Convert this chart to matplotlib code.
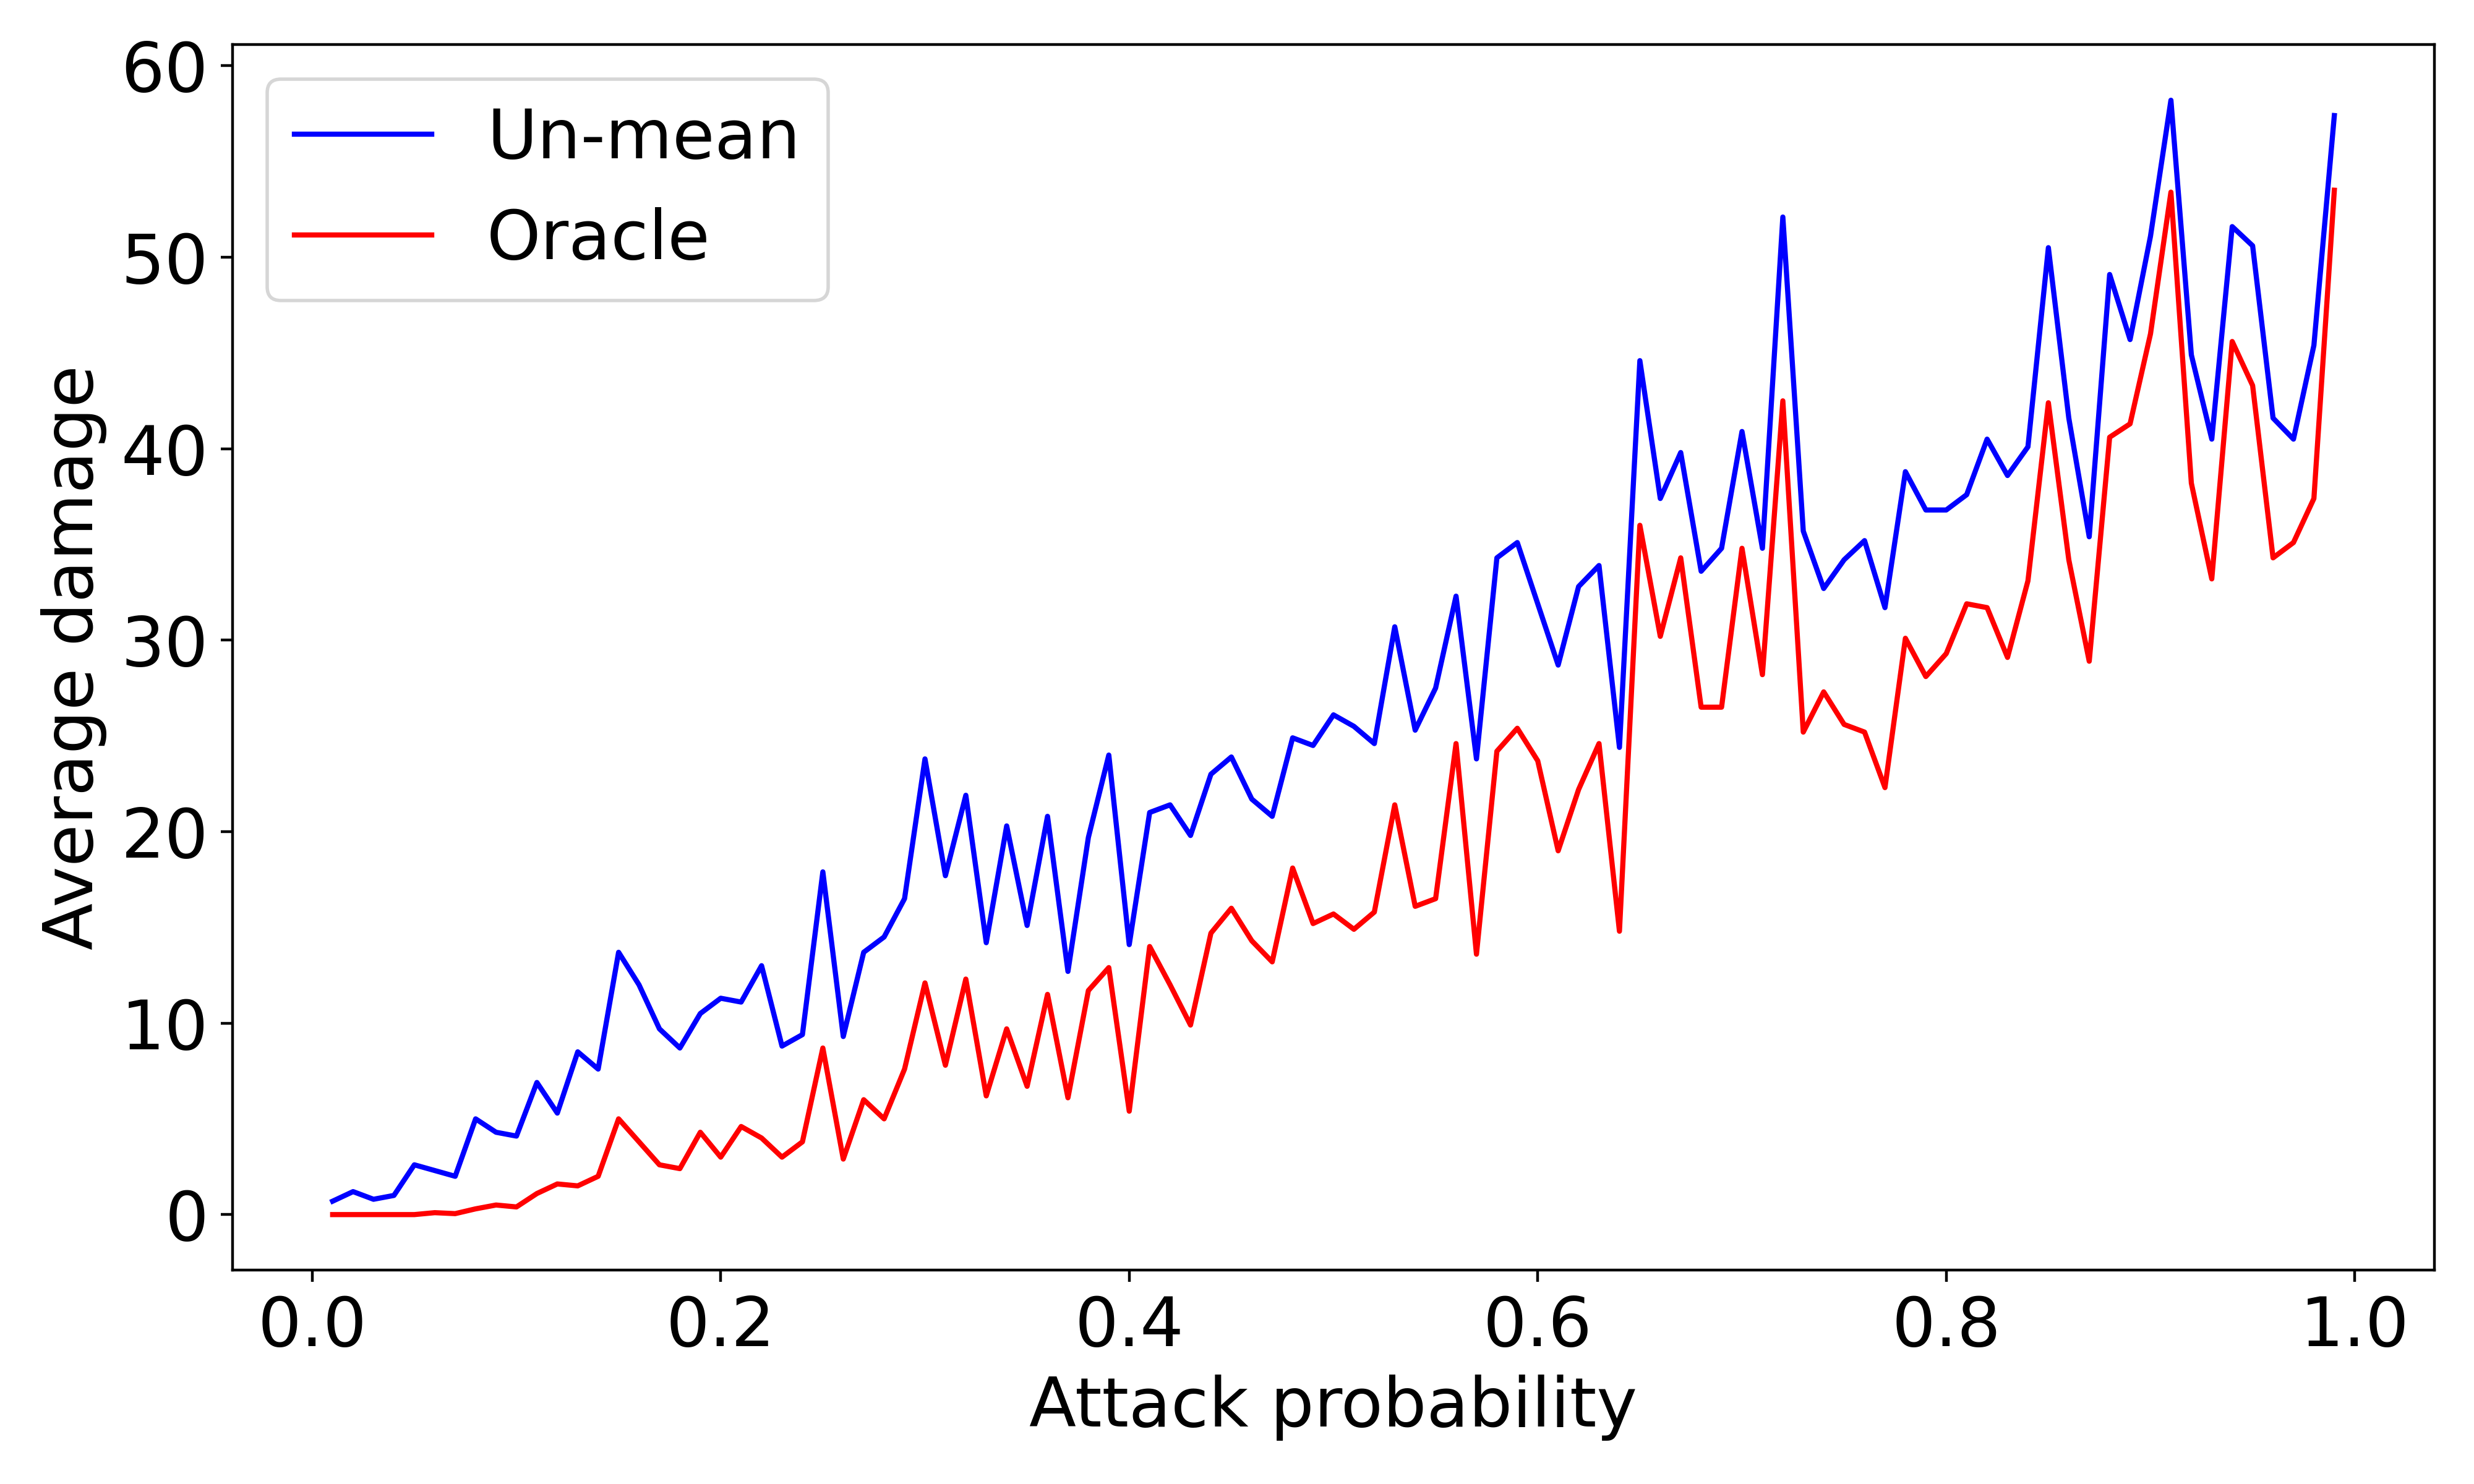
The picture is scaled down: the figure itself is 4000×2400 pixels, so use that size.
import numpy as np
import matplotlib
matplotlib.use("Agg")
import matplotlib.pyplot as plt

# attack probabilities 0.01 .. 0.99
attack_prob = [round(0.01 * i, 2) for i in range(1, 100)]

unmean_damage = [
    0.7, 1.2, 0.8, 1.0, 2.6, 2.3, 2.0, 5.0, 4.3, 4.1,
    6.9, 5.3, 8.5, 7.6, 13.7, 12.0, 9.7, 8.7, 10.5, 11.3,
    11.1, 13.0, 8.8, 9.4, 17.9, 9.3, 13.7, 14.5, 16.5, 23.8,
    17.7, 21.9, 14.2, 20.3, 15.1, 20.8, 12.7, 19.7, 24.0, 14.1,
    21.0, 21.4, 19.8, 23.0, 23.9, 21.7, 20.8, 24.9, 24.5, 26.1,
    25.5, 24.6, 30.7, 25.3, 27.5, 32.3, 23.8, 34.3, 35.1, 31.9,
    28.7, 32.8, 33.9, 24.4, 44.6, 37.4, 39.8, 33.6, 34.8, 40.9,
    34.8, 52.1, 35.7, 32.7, 34.2, 35.2, 31.7, 38.8, 36.8, 36.8,
    37.6, 40.5, 38.6, 40.1, 50.5, 41.6, 35.4, 49.1, 45.7, 51.1,
    58.2, 44.9, 40.5, 51.6, 50.6, 41.6, 40.5, 45.4, 57.4,
]

oracle_damage = [
    0.0, 0.0, 0.0, 0.0, 0.0, 0.1, 0.05, 0.3, 0.5, 0.4,
    1.1, 1.6, 1.5, 2.0, 5.0, 3.8, 2.6, 2.4, 4.3, 3.0,
    4.6, 4.0, 3.0, 3.8, 8.7, 2.9, 6.0, 5.0, 7.6, 12.1,
    7.8, 12.3, 6.2, 9.7, 6.7, 11.5, 6.1, 11.7, 12.9, 5.4,
    14.0, 12.0, 9.9, 14.7, 16.0, 14.3, 13.2, 18.1, 15.2, 15.7,
    14.9, 15.8, 21.4, 16.1, 16.5, 24.6, 13.6, 24.2, 25.4, 23.7,
    19.0, 22.2, 24.6, 14.8, 36.0, 30.2, 34.3, 26.5, 26.5, 34.8,
    28.2, 42.5, 25.2, 27.3, 25.6, 25.2, 22.3, 30.1, 28.1, 29.3,
    31.9, 31.7, 29.1, 33.1, 42.4, 34.2, 28.9, 40.6, 41.3, 46.0,
    53.4, 38.2, 33.2, 45.6, 43.3, 34.3, 35.1, 37.4, 53.5,
]

plt.rcParams['font.size'] = 20

fig, ax = plt.subplots(figsize=(10, 6))
fig.subplots_adjust(left=0.094, right=0.984, top=0.970, bottom=0.144)

ax.plot(attack_prob, unmean_damage, color='blue', label="Un-mean")
ax.plot(attack_prob, oracle_damage, color='red', label="Oracle")

ax.set_xticks([0.0, 0.2, 0.4, 0.6, 0.8, 1.0])
ax.set_yticks([0, 10, 20, 30, 40, 50, 60])
ax.set_xlabel("Attack probability")
ax.set_ylabel("Average damage")
ax.legend(loc='upper left')

fig.savefig("out.png", dpi=400)
plt.close(fig)
